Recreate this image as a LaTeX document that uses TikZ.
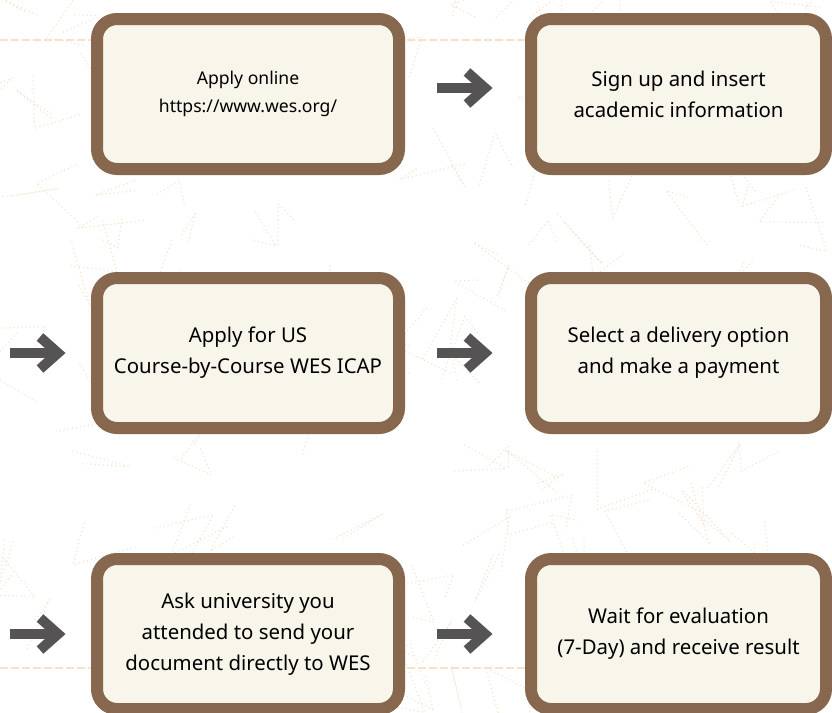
\documentclass[tikz,border=0pt]{standalone}
\usepackage{fontspec}
\setmainfont{Noto Sans}
\definecolor{boxbrown}{HTML}{87684E}
\definecolor{boxfill}{HTML}{F8F5EA}
\definecolor{arrgrey}{HTML}{555354}
\definecolor{texcol}{HTML}{F6E2CA}
\tikzset{
  stepbox/.style={draw=boxbrown, fill=boxfill, line width=12pt, rounded corners=20pt,
    minimum width=302pt, minimum height=150pt, inner sep=0pt, align=center,
    text=black, font=\fontsize{20.4}{31}\selectfont},
  rightbox/.style={stepbox, minimum width=295pt},
  smalltext/.style={font=\fontsize{17.6}{28}\selectfont},
  texture/.style={draw=texcol, line width=1.1pt, dash pattern=on 1.1pt off 3pt},
  myshaft/.style={draw=arrgrey, line width=10pt},
  mychev/.style={draw=arrgrey, line width=10pt, miter limit=10},
  fatarrow/.pic={
    \draw[myshaft] (0,0) -- (46,0);
    \draw[mychev] (30,-16) -- (48,0) -- (30,16);
  }
}
\begin{document}
\begin{tikzpicture}[x=1pt,y=-1pt]
\useasboundingbox (0,0) rectangle (832,712);
\fill[white] (0,0) rectangle (832,712);
\begin{scope}
\clip (0,0) rectangle (832,712);
\pgfmathsetseed{17}
\foreach \i in {1,...,170} {
  \pgfmathsetmacro{\ax}{rnd*870-20}
  \pgfmathsetmacro{\ay}{rnd*750-20}
  \pgfmathsetmacro{\ang}{rnd*360}
  \pgfmathsetmacro{\len}{25+rnd*45}
  \pgfmathsetmacro{\angb}{\ang+100+rnd*80}
  \pgfmathsetmacro{\lenb}{20+rnd*40}
  \draw[texture] (\ax,\ay) -- ++(\ang:\len) -- ++(\angb:\lenb);
}
\draw[texture, dash pattern=on 8pt off 3pt] (0,40) -- (832,40);
\draw[texture, dash pattern=on 8pt off 3pt] (0,668) -- (832,668);
\end{scope}

\node[stepbox, smalltext] (b1) at (248,94) {Apply online\\https://www.wes.org/};
\node[rightbox] (b2) at (678.5,94) {Sign up and insert\\academic information};
\node[stepbox] (b3) at (248,353) {Apply for US\\Course-by-Course WES ICAP};
\node[rightbox] (b4) at (678.5,353) {Select a delivery option\\and make a payment};
\node[stepbox] (b5) at (248,634) {Ask university you\\attended to send your\\document directly to WES};
\node[rightbox] (b6) at (678.5,634) {Wait for evaluation\\(7-Day) and receive result};

\coordinate (a1) at (437,88);
\coordinate (a2) at (10,353);
\coordinate (a3) at (437,353);
\coordinate (a4) at (10,634);
\coordinate (a5) at (437,634);
\pic at (a1) {fatarrow};
\pic at (a2) {fatarrow};
\pic at (a3) {fatarrow};
\pic at (a4) {fatarrow};
\pic at (a5) {fatarrow};
\end{tikzpicture}
\end{document}
